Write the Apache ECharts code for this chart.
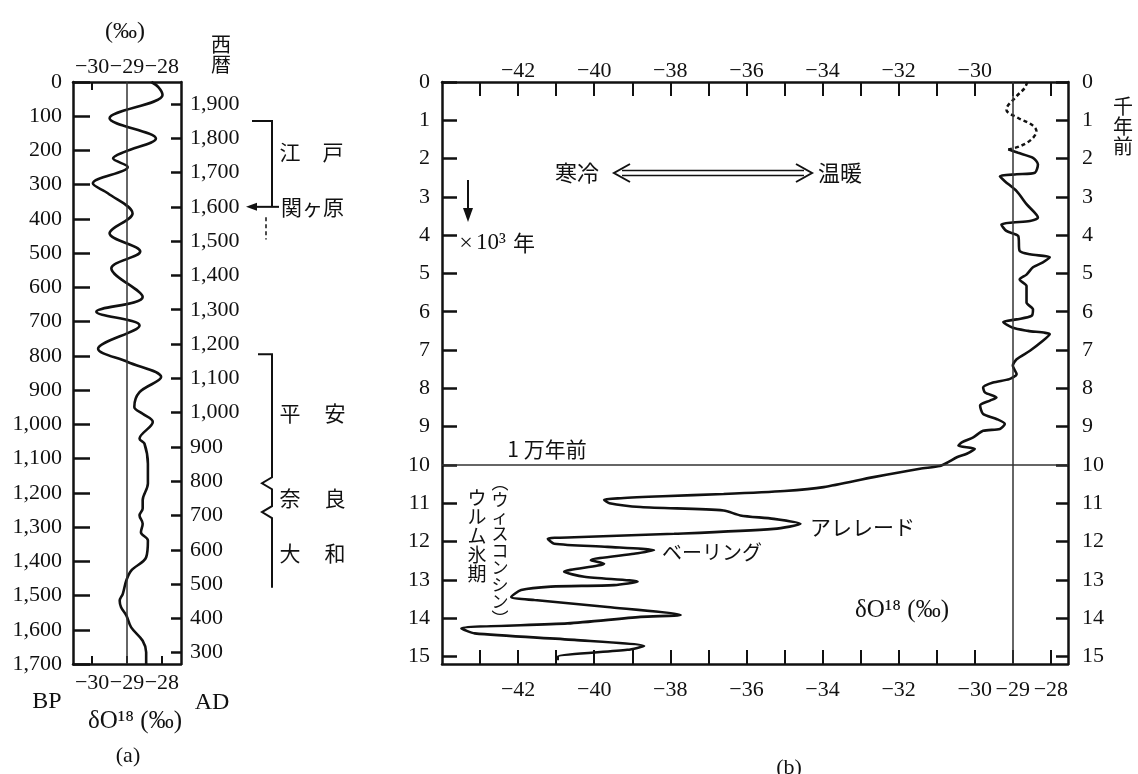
<!DOCTYPE html>
<html>
<head>
<meta charset="utf-8">
<script src="https://cdn.jsdelivr.net/npm/echarts@6/dist/echarts.min.js"></script>
<style>
html,body{margin:0;padding:0;background:#fff;}
#main{width:1138px;height:774px;}
</style>
</head>
<body>
<div id="main"></div>
<script>
// (a) 過去1700年 : 年代 (BP) と δO18 (‰)
var aBP   = [0, 15, 38, 106, 165, 204, 223, 248, 296, 325, 384, 442, 495, 544, 628, 671, 711, 779, 818, 862, 906, 949, 969, 993, 1042, 1056, 1115, 1173, 1222, 1246, 1266, 1290, 1315, 1339, 1388, 1427, 1456, 1495, 1515, 1534, 1558, 1593, 1632, 1666, 1700];
var aD18O = [-28.30, -28.10, -27.98, -29.50, -28.17, -29.07, -29.40, -28.98, -29.98, -29.55, -28.84, -29.50, -28.62, -29.45, -28.55, -29.88, -28.64, -29.83, -28.98, -28.02, -28.64, -28.79, -28.55, -28.26, -28.64, -28.50, -28.40, -28.40, -28.55, -28.55, -28.64, -28.55, -28.60, -28.40, -28.45, -28.88, -29.02, -29.12, -29.21, -29.17, -29.02, -28.88, -28.55, -28.45, -28.45];

// (b) 過去15000年 : 千年前 と δO18 (‰)  点線部分
var bKaDotted   = [0, 0.16, 0.37, 0.72, 0.94, 1.11, 1.28, 1.50, 1.68, 1.76];
var bD18ODotted = [-28.62, -28.69, -28.90, -29.17, -28.86, -28.51, -28.38, -28.51, -28.82, -29.12];
// 実線部分
var bKa   = [1.76, 1.85, 1.98, 2.15, 2.37, 2.41, 2.46, 2.59, 2.85, 3.19, 3.54, 3.63, 3.67, 3.72, 3.89, 4.02, 4.41, 4.50, 4.58, 4.71, 4.84, 5.03, 5.16, 5.33, 5.76, 5.94, 6.11, 6.20, 6.27, 6.42, 6.50, 6.59, 6.76, 7.02, 7.24, 7.41, 7.63, 7.76, 7.85, 7.98, 8.11, 8.24, 8.32, 8.45, 8.67, 8.80, 8.93, 9.06, 9.11, 9.28, 9.41, 9.50, 9.58, 9.71, 9.80, 9.93, 10.03, 10.10, 10.32, 10.58, 10.68, 10.76, 10.82, 10.87, 10.91, 11.00, 11.10, 11.19, 11.32, 11.41, 11.54, 11.67, 11.80, 11.89, 11.93, 12.06, 12.14, 12.23, 12.32, 12.49, 12.58, 12.79, 12.92, 13.05, 13.14, 13.18, 13.27, 13.45, 13.53, 13.71, 13.92, 13.97, 14.14, 14.27, 14.40, 14.57, 14.73, 14.83, 15.01, 15.10];
var bD18O = [-29.12, -28.86, -28.47, -28.34, -28.42, -28.90, -29.34, -29.21, -28.90, -28.64, -28.34, -28.55, -29.00, -29.30, -29.17, -28.86, -28.82, -28.55, -28.03, -28.21, -28.47, -28.64, -28.82, -28.64, -28.64, -28.47, -28.51, -28.90, -29.25, -29.00, -28.60, -28.03, -28.21, -28.55, -28.90, -29.00, -28.90, -29.09, -29.52, -29.78, -29.73, -29.43, -29.60, -29.86, -29.78, -29.43, -29.21, -29.34, -29.78, -30.04, -30.34, -30.43, -30.00, -30.21, -30.47, -30.70, -30.92, -31.44, -32.66, -33.97, -35.00, -36.60, -38.20, -39.30, -39.74, -39.60, -38.78, -36.60, -36.16, -35.28, -34.58, -35.28, -37.90, -40.52, -41.22, -41.05, -39.65, -38.43, -38.95, -40.09, -39.74, -40.79, -40.26, -38.86, -39.48, -41.14, -41.92, -42.18, -41.57, -39.65, -37.73, -38.78, -40.70, -43.49, -43.14, -40.52, -38.69, -39.13, -40.96, -40.96];

// 目盛り
var aXTicks = [-30, -29, -28];
var aADTicks = [300, 400, 500, 600, 700, 800, 900, 1000, 1100, 1200, 1300, 1400, 1500, 1600, 1700, 1800, 1900];
var bKaTicks = [0, 1, 2, 3, 4, 5, 6, 7, 8, 9, 10, 11, 12, 13, 14, 15];
var bXTicks = [-43, -42, -41, -40, -39, -38, -37, -36, -35, -34, -33, -32, -31, -30, -29, -28];
var bTopLabels = [-42, -40, -38, -36, -34, -32, -30];
var bBottomLabels = [-42, -40, -38, -36, -34, -32, -30, -29, -28];

var SERIF = '"Liberation Serif", "DejaVu Serif", serif';
var JP = '"Noto Sans CJK JP", sans-serif';
var INK = '#111';

function comma(v) { return String(v).replace(/\B(?=(\d{3})+(?!\d))/g, ','); }
function minus(v) { return v < 0 ? '\u2212' + Math.abs(v) : String(v); }
function pairs(xs, ys) { return ys.map(function (y, i) { return [xs[i], y]; }); }

var axLine = { onZero: false, lineStyle: { color: INK, width: 2.5 } };
var lbl = { fontFamily: SERIF, fontSize: 22, color: INK };

var chart = echarts.init(document.getElementById('main'));
chart.setOption({
  animation: false,
  backgroundColor: '#fff',
  grid: [
    { left: 73, top: 82, width: 108, height: 582 },
    { left: 442, top: 82, width: 626, height: 582 }
  ],
  xAxis: [
    {
      gridIndex: 0, type: 'value', position: 'bottom', min: -30.55, max: -27.45,
      axisLine: axLine,
      axisTick: { inside: true, length: 8, customValues: aXTicks, lineStyle: { color: INK, width: 2 } },
      axisLabel: Object.assign({ customValues: aXTicks, formatter: minus, margin: 8 }, lbl),
      splitLine: { show: false }
    },
    {
      gridIndex: 0, type: 'value', position: 'top', min: -30.55, max: -27.45,
      axisLine: axLine,
      axisTick: { inside: true, length: 8, customValues: [-30], lineStyle: { color: INK, width: 2 } },
      axisLabel: Object.assign({ customValues: aXTicks, formatter: minus, margin: 4 }, lbl),
      splitLine: { show: false }
    },
    {
      gridIndex: 1, type: 'value', position: 'bottom', min: -44, max: -27.55,
      axisLine: axLine,
      axisTick: { inside: true, length: 14, customValues: bXTicks, lineStyle: { color: INK, width: 2 } },
      axisLabel: Object.assign({ customValues: bBottomLabels, formatter: minus, margin: 15 }, lbl),
      splitLine: { show: false }
    },
    {
      gridIndex: 1, type: 'value', position: 'top', min: -44, max: -27.55,
      axisLine: axLine,
      axisTick: { inside: true, length: 14, customValues: bXTicks, lineStyle: { color: INK, width: 2 } },
      axisLabel: Object.assign({ customValues: bTopLabels, formatter: minus, margin: 0 }, lbl),
      splitLine: { show: false }
    }
  ],
  yAxis: [
    {
      gridIndex: 0, type: 'value', position: 'left', inverse: true, min: 0, max: 1700, interval: 100,
      axisLine: axLine,
      axisTick: { inside: true, length: 17, lineStyle: { color: INK, width: 2.5 } },
      axisLabel: Object.assign({ formatter: comma, margin: 11 }, lbl),
      splitLine: { show: false }
    },
    {
      gridIndex: 0, type: 'value', position: 'right', min: 267, max: 1964,
      axisLine: axLine,
      axisTick: { inside: true, length: 10, customValues: aADTicks, lineStyle: { color: INK, width: 2.5 } },
      axisLabel: Object.assign({ customValues: aADTicks, formatter: comma, margin: 9 }, lbl),
      splitLine: { show: false }
    },
    {
      gridIndex: 1, type: 'value', position: 'left', inverse: true, min: 0, max: 15.2,
      axisLine: axLine,
      axisTick: { inside: true, length: 15, customValues: bKaTicks, lineStyle: { color: INK, width: 2.5 } },
      axisLabel: Object.assign({ customValues: bKaTicks, margin: 12 }, lbl),
      splitLine: { show: false }
    },
    {
      gridIndex: 1, type: 'value', position: 'right', inverse: true, min: 0, max: 15.2,
      axisLine: axLine,
      axisTick: { inside: true, length: 12, customValues: bKaTicks, lineStyle: { color: INK, width: 2.5 } },
      axisLabel: Object.assign({ customValues: bKaTicks, margin: 14 }, lbl),
      splitLine: { show: false }
    }
  ],
  series: [
    {
      name: '(a)', type: 'line', xAxisIndex: 0, yAxisIndex: 0,
      data: pairs(aD18O, aBP), symbol: 'none', smooth: 0.35,
      lineStyle: { color: INK, width: 2.6 },
      emphasis: { disabled: true },
      markLine: {
        silent: true, symbol: 'none', label: { show: false },
        lineStyle: { color: '#333', width: 1.5, type: 'solid' },
        data: [{ xAxis: -29 }]
      }
    },
    {
      name: '(b) 点線', type: 'line', xAxisIndex: 2, yAxisIndex: 2,
      data: pairs(bD18ODotted, bKaDotted), symbol: 'none', smooth: 0.35,
      lineStyle: { color: INK, width: 2.5, type: [4, 3] },
      emphasis: { disabled: true }
    },
    {
      name: '(b)', type: 'line', xAxisIndex: 2, yAxisIndex: 2,
      data: pairs(bD18O, bKa), symbol: 'none', smooth: 0.25,
      lineStyle: { color: INK, width: 2.6 },
      emphasis: { disabled: true },
      markLine: {
        silent: true, symbol: 'none', label: { show: false },
        lineStyle: { color: '#333', width: 1.5, type: 'solid' },
        data: [{ xAxis: -29 }, { yAxis: 10 }]
      }
    }
  ]
});

// 注記
function txt(s, x, y, size, family, align) {
  return {
    type: 'text', silent: true,
    style: {
      text: s, x: x, y: y, font: size + 'px ' + family, fill: INK,
      align: align || 'center', verticalAlign: 'middle',
      textAlign: align || 'center', textVerticalAlign: 'middle'
    }
  };
}
function poly(points, w, dash) {
  return {
    type: 'polyline', silent: true,
    shape: { points: points },
    style: { stroke: INK, lineWidth: w || 2, fill: null, lineDash: dash || null }
  };
}
function yAD(ad) { return chart.convertToPixel({ yAxisIndex: 1 }, ad); }

var yEdo = yAD(1850), ySeki = yAD(1600), yHeian = yAD(1170);
var yNara = yAD(794), yYamato = yAD(710), yEnd = yAD(489);

chart.setOption({
  graphic: [
    txt('(\u2030)', 125, 32, 24, SERIF),
    txt('西\n暦', 221, 54, 20, JP),
    txt('BP', 47, 702, 24, SERIF),
    txt('AD', 212, 703, 24, SERIF),
    txt('\u03b4O\u00b9\u2078 (\u2030)', 135, 721, 25, SERIF),
    txt('(a)', 128, 756, 22, SERIF),

    poly([[252, yEdo], [272, yEdo], [272, ySeki]], 2),
    poly([[279, ySeki], [252, ySeki]], 2),
    { type: 'polygon', silent: true, shape: { points: [[246, ySeki], [257, ySeki - 4], [257, ySeki + 4]] }, style: { fill: INK } },
    poly([[266, yAD(1570)], [266, yAD(1505)]], 1.5, [4, 3]),
    txt('江', 290, yAD(1760), 21, JP),
    txt('戸', 333, yAD(1760), 21, JP),
    txt('関ヶ原', 281, ySeki, 21, JP, 'left'),

    poly([[258, yHeian], [272, yHeian], [272, yNara - 6], [262, yNara], [272, yNara + 6],
          [272, yYamato - 6], [262, yYamato], [272, yYamato + 6], [272, yEnd]], 2),
    txt('平', 290, yAD(1000), 21, JP),
    txt('安', 335, yAD(1000), 21, JP),
    txt('奈', 290, yAD(752), 21, JP),
    txt('良', 335, yAD(752), 21, JP),
    txt('大', 290, yAD(590), 21, JP),
    txt('和', 335, yAD(590), 21, JP),

    txt('千\n年\n前', 1123, 126, 20, JP),
    txt('寒冷', 577, 173, 22, JP),
    txt('温暖', 840, 173, 22, JP),
    poly([[622, 170.5], [804, 170.5]], 1.5),
    poly([[622, 175.5], [804, 175.5]], 1.5),
    poly([[630, 164], [614, 173], [630, 182]], 2),
    poly([[796, 164], [812, 173], [796, 182]], 2),

    poly([[468, 180], [468, 212]], 2),
    { type: 'polygon', silent: true, shape: { points: [[463, 208], [468, 222], [473, 208]] }, style: { fill: INK } },
    txt('\u00d7', 466, 244, 24, SERIF),
    txt('10\u00b3', 476, 243, 23, SERIF, 'left'),
    txt('年', 513, 243, 22, JP, 'left'),

    txt('1 万年前', 547, 449, 21, JP),
    txt('アレレード', 810, 527, 21, JP, 'left'),
    txt('ベーリング', 662, 552, 20, JP, 'left'),
    txt('ウ\nル\nム\n氷\n期', 477, 536, 19, JP),
    txt('\ufe35\nウ\nィ\nス\nコ\nン\nシ\nン\n\ufe36', 500, 551, 17, JP),
    txt('\u03b4O\u00b9\u2078 (\u2030)', 902, 610, 25, SERIF),
    txt('(b)', 789, 768, 22, SERIF)
  ]
});
</script>
</body>
</html>
